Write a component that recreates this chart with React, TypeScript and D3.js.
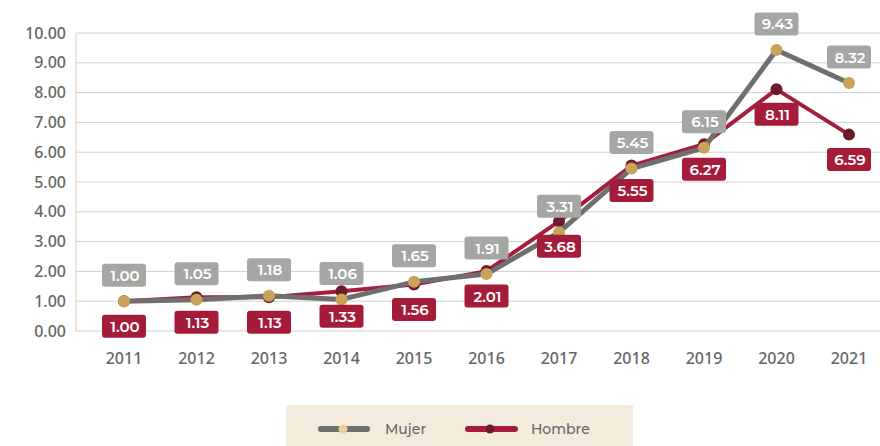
import React from "react";
import * as d3 from "d3";

const years = ["2011","2012","2013","2014","2015","2016","2017","2018","2019","2020","2021"];
const mujer = [1.00,1.05,1.18,1.06,1.65,1.91,3.31,5.45,6.15,9.43,8.32];
const hombre = [1.00,1.13,1.13,1.33,1.56,2.01,3.68,5.55,6.27,8.11,6.59];
const yTicks = [0,1,2,3,4,5,6,7,8,9,10];

const W = 880, H = 446;
const font = "Montserrat, 'Noto Sans', 'Open Sans', sans-serif";
const axisFont = "'Noto Sans', sans-serif";

export default function App() {
  const x = d3.scalePoint<string>().domain(years).range([124, 849]);
  const y = d3.scaleLinear().domain([0, 10]).range([331, 33]);
  const line = d3.line<number>().x((_, i) => x(years[i])!).y(d => y(d));

  const box = (cx: number, cy: number, txt: string, fill: string, key: string) => (
    <g key={key}>
      <rect x={cx - 22} y={cy - 11.5} width={44} height={23} rx={3} fill={fill} />
      <text x={cx + 1} y={cy + 5.5} textAnchor="middle" fontSize={15} fontWeight={600} fill="#fff" fontFamily={font}>{txt}</text>
    </g>
  );

  return (
    <svg width={W} height={H} style={{ position: "absolute", left: 0, top: 0, background: "#fff" }}>
      {yTicks.map(t => (
        <g key={t}>
          <line x1={76} x2={W} y1={y(t)} y2={y(t)} stroke="#cfcfcf" strokeWidth={1} />
          <text x={66} y={y(t) + 5.5} textAnchor="end" fontSize={16} fontWeight={500} fill="#666" fontFamily={axisFont}>{t.toFixed(2)}</text>
        </g>
      ))}
      <line x1={76} x2={76} y1={y(10)} y2={y(0)} stroke="#cfcfcf" strokeWidth={1} />
      {years.map(yr => (
        <text key={yr} x={x(yr)} y={364} textAnchor="middle" fontSize={16} fontWeight={500} fill="#666" fontFamily={axisFont}>{yr}</text>
      ))}
      <path d={line(hombre)!} fill="none" stroke="#a41d3b" strokeWidth={4} strokeLinejoin="round" />
      {hombre.map((v, i) => (
        <circle key={"h" + i} cx={x(years[i])} cy={y(v)} r={6} fill="#6e1a2c" />
      ))}
      <path d={line(mujer)!} fill="none" stroke="#6f6f6f" strokeWidth={5} strokeLinejoin="round" />
      {mujer.map((v, i) => (
        <circle key={"m" + i} cx={x(years[i])} cy={y(v)} r={6} fill="#c9a35a" />
      ))}
      {mujer.map((v, i) => box(x(years[i])!, y(v) - 26, v.toFixed(2), "#a6a6a4", "lm" + i))}
      {hombre.map((v, i) => box(x(years[i])!, y(v) + 25, v.toFixed(2), "#a51c3a", "lh" + i))}
      <rect x={286} y={405} width={347} height={41} fill="#f3ebdc" />
      <line x1={321} x2={367} y1={429} y2={429} stroke="#707070" strokeWidth={6} strokeLinecap="round" />
      <circle cx={343} cy={429} r={4.5} fill="#e6d0a0" />
      <text x={385} y={434} fontSize={14} fontWeight={500} fill="#666" fontFamily={font}>Mujer</text>
      <line x1={468} x2={515} y1={429} y2={429} stroke="#a41d3b" strokeWidth={6} strokeLinecap="round" />
      <circle cx={490} cy={429} r={4.5} fill="#6e1a2c" />
      <text x={531} y={434} fontSize={14} fontWeight={500} fill="#666" fontFamily={font}>Hombre</text>
    </svg>
  );
}
